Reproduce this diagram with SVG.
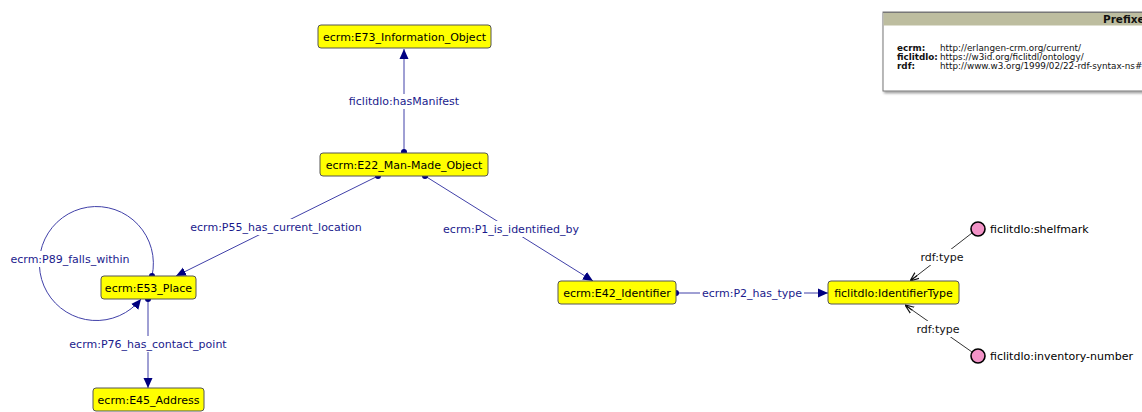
<svg xmlns="http://www.w3.org/2000/svg" width="1142" height="412" viewBox="0 0 1142 412">
  <style>
    .cls rect { fill: #ffff00; stroke: #555; stroke-width: 1; }
    .cls text { font-family: "DejaVu Sans", Verdana, sans-serif; font-size: 11px; fill: #000; text-anchor: middle; dominant-baseline: central; }
    .ind circle { fill: #f293c7; stroke: #000; stroke-width: 1.6; }
    .ind text { font-family: "DejaVu Sans", Verdana, sans-serif; font-size: 11px; fill: #000; dominant-baseline: central; }
    .edge { fill: none; stroke: #4040a8; stroke-width: 1; }
    .edge-t { fill: none; stroke: #333; stroke-width: 1; }
    .lbl { font-family: "DejaVu Sans", Verdana, sans-serif; font-size: 11px; fill: #1a1a8c; text-anchor: middle; dominant-baseline: central; }
    .lbl-t { font-family: "DejaVu Sans", Verdana, sans-serif; font-size: 11px; fill: #111; text-anchor: middle; dominant-baseline: central; }
    .bg { fill: #fff; }
    .dot { fill: #000080; }
    .pfx { font-family: "DejaVu Sans", Verdana, sans-serif; font-size: 8.8px; fill: #111; }
  </style>
  <defs>
    <marker id="arrow" viewBox="0 0 10 10" refX="10" refY="5" markerWidth="10" markerHeight="10" markerUnits="userSpaceOnUse" orient="auto">
      <path d="M0,0.5 L10,5 L0,9.5 z" fill="#000080"/>
    </marker>
    <marker id="arrow-t" viewBox="0 0 10 10" refX="10" refY="5" markerWidth="9" markerHeight="9" markerUnits="userSpaceOnUse" orient="auto">
      <path d="M0,1 L10,5 L0,9 M10,5 L0,5" fill="none" stroke="#111" stroke-width="1.3"/>
    </marker>
    <filter id="shadow" x="-5%" y="-10%" width="115%" height="130%">
      <feDropShadow dx="1.5" dy="2" stdDeviation="1.2" flood-color="#000" flood-opacity="0.35"/>
    </filter>
  </defs>

  <rect width="1142" height="412" fill="#fff"/>

  <!-- connectors -->
  <g id="connectors">
    <!-- hasManifest -->
    <line class="edge" x1="404" y1="152" x2="404" y2="49" marker-end="url(#arrow)"/>
    <rect class="bg" x="345" y="94" width="118" height="15"/>
    <text class="lbl" x="404" y="101">ficlitdlo:hasManifest</text>
    <circle class="dot" cx="404" cy="152" r="3"/>

    <!-- P55 -->
    <line class="edge" x1="378" y1="176" x2="176" y2="276" marker-end="url(#arrow)"/>
    <rect class="bg" x="188" y="219" width="176" height="16"/>
    <text class="lbl" x="276" y="227">ecrm:P55_has_current_location</text>
    <circle class="dot" cx="378" cy="176" r="3"/>

    <!-- P1 -->
    <line class="edge" x1="425" y1="176" x2="593" y2="281" marker-end="url(#arrow)"/>
    <rect class="bg" x="440" y="221" width="142" height="16"/>
    <text class="lbl" x="511" y="229">ecrm:P1_is_identified_by</text>
    <circle class="dot" cx="425" cy="176" r="3"/>

    <!-- P89 self loop -->
    <path class="edge" d="M152,276 A57,57 0 1 0 141,299" marker-end="url(#arrow)"/>
    <rect class="bg" x="9" y="251" width="122" height="16"/>
    <text class="lbl" x="70" y="259">ecrm:P89_falls_within</text>
    <circle class="dot" cx="152" cy="276" r="3"/>

    <!-- P76 -->
    <line class="edge" x1="148" y1="299" x2="148" y2="388" marker-end="url(#arrow)"/>
    <rect class="bg" x="66" y="336" width="164" height="16"/>
    <text class="lbl" x="148" y="344">ecrm:P76_has_contact_point</text>
    <circle class="dot" cx="148" cy="299" r="3"/>

    <!-- P2 -->
    <line class="edge" x1="676" y1="293" x2="828" y2="293" marker-end="url(#arrow)"/>
    <rect class="bg" x="700" y="285" width="104" height="16"/>
    <text class="lbl" x="752" y="293">ecrm:P2_has_type</text>
    <circle class="dot" cx="676" cy="293" r="3"/>

    <!-- rdf:type from shelfmark -->
    <line class="edge-t" x1="972" y1="233" x2="910" y2="281" marker-end="url(#arrow-t)"/>
    <rect class="bg" x="917" y="249" width="50" height="16"/>
    <text class="lbl-t" x="942" y="257">rdf:type</text>

    <!-- rdf:type from inventory-number -->
    <line class="edge-t" x1="972" y1="352" x2="905" y2="305" marker-end="url(#arrow-t)"/>
    <rect class="bg" x="913" y="321" width="50" height="16"/>
    <text class="lbl-t" x="938" y="329">rdf:type</text>
  </g>

  <!-- class nodes -->
  <g id="E73" class="cls">
    <rect x="318" y="25" width="173" height="23" rx="3"/>
    <text x="404.5" y="37">ecrm:E73_Information_Object</text>
  </g>
  <g id="E22" class="cls">
    <rect x="320" y="153" width="168" height="23" rx="3"/>
    <text x="404" y="165">ecrm:E22_Man-Made_Object</text>
  </g>
  <g id="E53" class="cls">
    <rect x="101" y="276" width="95" height="23" rx="3"/>
    <text x="148.5" y="288">ecrm:E53_Place</text>
  </g>
  <g id="E45" class="cls">
    <rect x="93" y="388" width="111" height="23" rx="3"/>
    <text x="148.5" y="400">ecrm:E45_Address</text>
  </g>
  <g id="E42" class="cls">
    <rect x="558" y="281" width="118" height="23" rx="3"/>
    <text x="617" y="293">ecrm:E42_Identifier</text>
  </g>
  <g id="IdentifierType" class="cls">
    <rect x="828" y="281" width="131" height="23" rx="3"/>
    <text x="893.5" y="293">ficlitdlo:IdentifierType</text>
  </g>

  <!-- individuals -->
  <g id="shelfmark" class="ind">
    <circle cx="978" cy="229" r="7"/>
    <text x="990" y="229">ficlitdlo:shelfmark</text>
  </g>
  <g id="inventory-number" class="ind">
    <circle cx="978" cy="356" r="7"/>
    <text x="990" y="356">ficlitdlo:inventory-number</text>
  </g>

  <!-- prefix legend -->
  <g id="prefixes">
    <rect x="883" y="12" width="270" height="79" fill="#fff" stroke="#777" stroke-width="1" filter="url(#shadow)"/>
    <rect x="883.5" y="12.5" width="270" height="13" fill="#bdbd9f"/>
    <line x1="883" y1="12.5" x2="1142" y2="12.5" stroke="#777"/>
    <text x="1103" y="23" font-family="'DejaVu Sans', Verdana, sans-serif" font-size="10.5" font-weight="bold" fill="#111">Prefixes</text>
    <text class="pfx" x="897" y="51" font-weight="bold">ecrm:</text>
    <text class="pfx" x="940" y="51">http://erlangen-crm.org/current/</text>
    <text class="pfx" x="897" y="60" font-weight="bold">ficlitdlo:</text>
    <text class="pfx" x="940" y="60">https://w3id.org/ficlitdl/ontology/</text>
    <text class="pfx" x="897" y="69" font-weight="bold">rdf:</text>
    <text class="pfx" x="940" y="69">http://www.w3.org/1999/02/22-rdf-syntax-ns#</text>
  </g>
</svg>
